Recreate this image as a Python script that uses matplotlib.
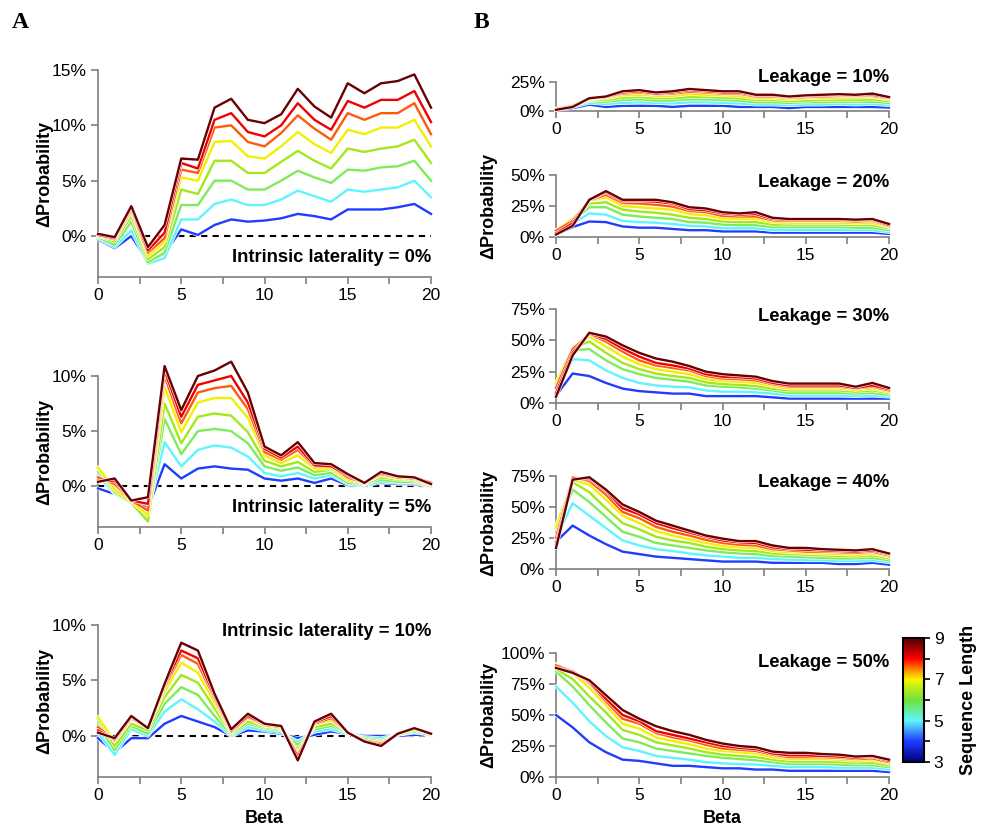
import matplotlib
matplotlib.use("Agg")
import matplotlib.pyplot as plt
import matplotlib.patheffects as pe
from matplotlib.colors import LinearSegmentedColormap, Normalize
from matplotlib.ticker import MultipleLocator, FuncFormatter, FixedLocator
import matplotlib.cm as cm

plt.rcParams["font.family"] = ["Liberation Sans", "DejaVu Sans"]

# ---- data (values in %) ----
beta = list(range(21))
seq_len = [3, 4, 5, 6, 7, 8, 9, 10]

# panel A: intrinsic laterality 0%, 5%, 10%   (rows = sequence length, low -> high)
lat0 = [
    [-0.3, -1.1, 0.0, -2.3, -1.6, 0.6, 0.1, 1.0, 1.5, 1.3, 1.4, 1.6, 2.0, 1.8, 1.5, 2.4, 2.4, 2.4, 2.6, 2.9, 2.0],
    [-0.2, -1.0, 0.5, -2.5, -2.0, 1.5, 1.5, 2.9, 3.3, 2.8, 2.8, 3.3, 4.1, 3.6, 3.1, 4.2, 4.0, 4.2, 4.4, 5.0, 3.5],
    [-0.1, -0.8, 1.3, -2.4, -1.5, 2.8, 2.8, 5.0, 5.0, 4.2, 4.2, 5.0, 5.9, 5.3, 4.8, 6.0, 5.9, 6.2, 6.3, 6.8, 5.0],
    [0.0, -0.5, 1.8, -2.1, -1.0, 4.2, 3.8, 6.8, 6.8, 5.7, 5.7, 6.7, 7.7, 6.8, 6.1, 7.9, 7.6, 7.9, 8.1, 8.7, 6.6],
    [0.0, -0.3, 2.2, -1.8, -0.5, 5.3, 5.0, 8.5, 8.6, 7.2, 7.0, 8.1, 9.4, 8.3, 7.5, 9.6, 9.2, 9.8, 9.8, 10.5, 8.1],
    [0.1, -0.3, 2.4, -1.5, -0.2, 6.0, 5.7, 9.8, 10.0, 8.5, 8.1, 9.3, 10.9, 9.7, 8.7, 11.1, 10.5, 11.1, 11.1, 12.0, 9.2],
    [0.1, -0.2, 2.6, -1.3, 0.3, 6.6, 6.1, 10.5, 11.1, 9.4, 9.0, 10.0, 12.0, 10.5, 9.6, 12.2, 11.6, 12.3, 12.3, 13.1, 10.3],
    [0.2, -0.1, 2.7, -1.0, 1.0, 7.0, 6.9, 11.6, 12.4, 10.5, 10.2, 11.0, 13.3, 11.7, 10.7, 13.8, 12.9, 13.8, 14.0, 14.6, 11.6],
]
lat5 = [
    [-0.2, -0.7, -1.3, -2.0, 2.0, 0.7, 1.6, 1.8, 1.6, 1.5, 0.7, 0.5, 0.7, 0.3, 0.7, 0.1, 0.1, 0.3, 0.2, 0.2, 0.0],
    [1.0, -0.7, -1.5, -2.3, 4.0, 1.8, 3.3, 3.7, 3.5, 2.7, 1.2, 0.9, 1.2, 0.7, 1.0, 0.2, 0.1, 0.4, 0.3, 0.3, 0.0],
    [1.3, -0.6, -1.5, -2.8, 6.1, 2.9, 5.0, 5.2, 5.0, 3.9, 1.8, 1.4, 1.7, 1.0, 1.2, 0.3, 0.2, 0.6, 0.4, 0.4, 0.0],
    [1.6, -0.5, -1.5, -3.2, 7.5, 3.9, 6.3, 6.6, 6.4, 4.9, 2.3, 1.8, 2.2, 1.3, 1.5, 0.5, 0.2, 0.8, 0.6, 0.5, 0.1],
    [1.7, -0.3, -1.4, -2.6, 9.0, 4.9, 7.6, 8.0, 8.0, 6.2, 2.8, 2.1, 2.8, 1.6, 1.6, 0.6, 0.3, 1.0, 0.7, 0.6, 0.1],
    [0.8, 0.2, -1.3, -2.2, 10.0, 5.7, 8.5, 8.9, 9.1, 7.0, 3.1, 2.4, 3.3, 1.8, 1.8, 0.8, 0.3, 1.1, 0.8, 0.7, 0.2],
    [0.5, 0.5, -1.3, -1.6, 10.5, 6.3, 9.2, 9.6, 10.0, 7.6, 3.4, 2.6, 3.6, 1.9, 1.8, 1.0, 0.3, 1.2, 0.9, 0.8, 0.3],
    [0.4, 0.7, -1.3, -1.0, 10.9, 6.9, 10.0, 10.5, 11.3, 8.5, 3.6, 2.8, 4.0, 2.1, 2.0, 1.1, 0.3, 1.3, 0.9, 0.8, 0.2],
]
lat10 = [
    [-0.2, -1.5, -0.2, -0.2, 1.1, 1.8, 1.3, 0.8, 0.0, 0.5, 0.4, 0.2, -0.2, 0.1, 0.4, 0.2, 0.0, 0.0, 0.0, 0.1, 0.1],
    [0.3, -1.7, 0.6, 0.0, 2.2, 3.3, 2.4, 1.3, 0.0, 0.8, 0.5, 0.3, -0.5, 0.4, 0.6, 0.2, -0.1, -0.2, 0.1, 0.3, 0.1],
    [1.0, -1.3, 0.9, 0.2, 2.9, 4.4, 3.7, 1.8, 0.1, 1.1, 0.7, 0.5, -0.8, 0.6, 0.9, 0.3, -0.2, -0.4, 0.1, 0.4, 0.1],
    [1.5, -0.9, 1.1, 0.5, 3.5, 5.5, 4.8, 2.5, 0.2, 1.3, 0.8, 0.6, -1.2, 0.8, 1.1, 0.3, -0.3, -0.5, 0.1, 0.5, 0.2],
    [1.7, -0.5, 1.5, 0.8, 4.0, 6.6, 5.7, 3.0, 0.3, 1.6, 0.9, 0.7, -1.5, 1.0, 1.4, 0.3, -0.4, -0.6, 0.2, 0.6, 0.2],
    [0.8, -0.4, 1.6, 0.7, 4.4, 7.3, 6.5, 3.4, 0.4, 1.7, 1.0, 0.8, -1.7, 1.1, 1.6, 0.3, -0.4, -0.7, 0.2, 0.7, 0.2],
    [0.5, -0.3, 1.7, 0.7, 4.6, 7.7, 7.0, 3.6, 0.5, 1.8, 1.1, 0.9, -1.9, 1.2, 1.8, 0.3, -0.5, -0.8, 0.2, 0.7, 0.2],
    [0.3, -0.2, 1.8, 0.7, 4.7, 8.4, 7.7, 3.8, 0.6, 2.0, 1.1, 0.9, -2.2, 1.3, 2.0, 0.3, -0.5, -0.9, 0.2, 0.7, 0.2],
]

# panel B: leakage 10% .. 50%
leak10 = [
    [1, 2.5, 5.5, 3.5, 4.5, 4.5, 4.5, 3.5, 4.5, 4.5, 4.5, 3.5, 3.5, 3.5, 2.5, 3.5, 3.5, 3.5, 3.5, 3.5, 3],
    [1.5, 3.5, 7, 6, 7, 7.5, 7, 6.5, 7.5, 7.5, 7, 6.5, 5.5, 5.5, 5, 5.5, 5.5, 6, 5.5, 6, 5],
    [2, 4.5, 8.5, 8, 9.5, 10, 9, 9, 10, 10, 9.5, 9, 7.5, 7.5, 7, 7.5, 7.5, 8, 8, 8, 7],
    [2, 5, 9.5, 9.5, 11.5, 12, 11, 11, 12, 12, 11.5, 11, 9.5, 9.5, 8.5, 9, 9.5, 9.5, 9.5, 10, 8.5],
    [2, 5, 10, 11, 13.5, 14, 13, 13, 14.5, 14, 13.5, 13, 11, 11, 10, 11, 11, 11.5, 11.5, 12, 10],
    [1.5, 4.5, 10.5, 12, 15, 16, 14.5, 15, 16.5, 16, 15, 15, 12.5, 12.5, 11.5, 12, 12.5, 13, 13, 13, 11],
    [1.5, 4, 11, 12, 16, 17, 15, 16, 18, 17, 16, 16, 13.5, 13.5, 12, 13, 13.5, 14, 13.5, 14, 11.5],
    [1, 3.5, 11, 12.5, 17, 18, 16, 17, 19, 18, 17, 17, 14, 14, 12.5, 13.5, 14, 14.5, 14, 15, 12],
]
leak20 = [
    [2, 8, 12.5, 12, 8.5, 7.5, 7.5, 6.5, 5.5, 5.5, 4.5, 4.5, 4.5, 3.5, 3.5, 3.5, 3.5, 3.5, 3.5, 3.5, 2.5],
    [3, 11, 19, 18, 13, 12, 11.5, 10.5, 9, 8.5, 7, 7, 7, 5.5, 5.5, 5.5, 5.5, 5.5, 5.5, 5.5, 4],
    [4, 13, 24, 24, 18, 16.5, 15.5, 14.5, 12, 11.5, 10, 9.5, 9.5, 8, 8, 8, 8, 8, 7.5, 7.5, 5.5],
    [5, 14, 27, 28, 22, 20.5, 19.5, 18, 15.5, 14.5, 12.5, 12, 12, 10, 10, 10, 10, 10, 9.5, 9.5, 7],
    [5.5, 14.5, 29, 32, 25, 24, 23, 22, 18.5, 17.5, 15, 14.5, 14.5, 12, 11.5, 11.5, 11.5, 11.5, 11, 11.5, 8],
    [5, 13, 29.5, 34, 27.5, 27, 26, 24.5, 21, 20, 17, 16.5, 16.5, 13.5, 13, 13, 13, 13, 12.5, 13, 9],
    [3, 11, 30, 36, 29, 29, 28.5, 27, 22.5, 21.5, 19, 18, 18.5, 14.5, 14, 14, 14, 14, 13.5, 14, 9.5],
    [2, 9, 30, 37, 30, 30, 30, 28, 24, 23, 20, 19, 20, 15.5, 14.5, 14.5, 14.5, 14.5, 14, 14.5, 10.5],
]
leak30 = [
    [6, 23.5, 21.5, 16, 11.5, 9.5, 8.5, 7.5, 7.5, 5.5, 5.5, 5.5, 5.5, 4.5, 3.5, 3.5, 3.5, 3.5, 3.5, 3.5, 3.5],
    [8, 35, 34, 26, 20, 16, 14, 13, 12.5, 10, 9, 9, 8.5, 7.5, 6, 6, 6, 6, 5.5, 6, 5],
    [12, 42, 43, 34, 27, 23, 20, 18.5, 17, 14, 13, 12.5, 11.5, 10, 8, 8, 8, 8, 7.5, 8, 6.5],
    [15, 44, 49, 40, 32, 27, 23.5, 21.5, 20, 16.5, 15, 14.5, 13.5, 11.5, 10, 10, 10, 10, 9, 10, 8],
    [16, 44, 53, 45, 37, 31, 27, 25, 23, 19, 17.5, 17, 16, 13.5, 11.5, 11.5, 11.5, 11.5, 10.5, 11.5, 9],
    [12, 43, 55, 49, 41, 34, 30, 28, 26, 21.5, 19.5, 19, 18, 15, 13, 13, 13, 13, 11.5, 13, 10],
    [8, 40, 55.5, 51, 43.5, 37, 32, 30, 27.5, 23, 21, 20.5, 19.5, 16, 14, 14, 14, 14, 12, 14, 11],
    [5, 38, 56, 53, 46, 40, 35.5, 33, 29.5, 25, 23, 22, 21, 17.5, 15.5, 15.5, 15.5, 15.5, 13, 16, 12],
]
leak40 = [
    [22, 35, 27, 20, 14, 12, 10, 9, 8, 7, 6, 6, 6, 5, 5, 5, 5, 4, 4, 5, 3.5],
    [25, 53, 43, 33, 23, 19, 16, 14.5, 12.5, 11, 10, 9, 9, 8, 7.5, 7, 7, 6.5, 6.5, 7, 5.5],
    [30, 64, 54, 42, 30, 26, 21, 19, 17, 15, 13.5, 12.5, 12, 10.5, 10, 9.5, 9, 8.5, 8.5, 9, 7],
    [35, 70, 62, 49, 37, 32, 26, 23, 21, 18, 16, 15, 14.5, 12.5, 12, 11.5, 11, 10.5, 10, 11, 8.5],
    [33, 72, 68, 56, 43, 37, 30.5, 27, 24, 21, 18.5, 17.5, 17, 14.5, 13.5, 13, 12.5, 12, 11.5, 12.5, 10],
    [25, 74, 71, 60, 46, 41, 34, 30, 27, 23.5, 21, 19.5, 19, 16, 15, 14, 14, 13.5, 13, 14, 11],
    [20, 73, 73, 63, 49, 44, 37, 33, 29.5, 26, 23, 21.5, 21, 17.5, 16, 15.5, 15, 14.5, 14, 15, 12],
    [17, 72, 74, 64, 52, 46, 39, 35, 31, 27, 24.5, 22.5, 22.5, 19, 17, 17, 16, 15.5, 15, 16, 12.5],
]
leak50 = [
    [50, 40, 28, 20, 14, 13, 11, 9, 9, 8, 7, 7, 6, 6, 5, 5, 5, 5, 5, 5, 4],
    [73, 60, 45, 33, 24, 21, 17, 15.5, 14, 12, 11, 10.5, 10, 9, 8, 8, 8, 7.5, 7.5, 7.5, 6],
    [85, 73, 58, 44, 31, 28, 23, 21, 19, 17, 15.5, 14.5, 13.5, 12, 10.5, 10.5, 10.5, 10, 9.5, 9.5, 8],
    [87, 79, 65, 52, 38, 34, 28, 25.5, 23, 20, 18, 17, 16, 14, 12.5, 12.5, 12.5, 12, 11.5, 11.5, 9.5],
    [91, 84, 72, 58, 43, 39, 32, 29, 26.5, 23, 21, 20, 19, 16, 14.5, 14.5, 14.5, 14, 13, 13.5, 11],
    [90, 85, 76, 61, 47, 43, 35.5, 32, 29.5, 26, 23, 22, 21, 18, 16, 16, 16, 15.5, 14.5, 15, 12],
    [88, 85, 77, 63, 50, 45, 37, 34, 31, 28, 25, 23.5, 22.5, 19, 17.5, 17.5, 17, 16.5, 15.5, 16.5, 13],
    [88, 84, 78, 66, 54, 47, 41, 37, 34, 30, 27, 25, 24, 20.5, 19.5, 19.5, 18.5, 18, 16.5, 17, 14],
]

lat_titles = ["Intrinsic laterality = 0%", "Intrinsic laterality = 5%", "Intrinsic laterality = 10%"]
leak_titles = ["Leakage = 10%", "Leakage = 20%", "Leakage = 30%", "Leakage = 40%", "Leakage = 50%"]

# ---- style ----
line_colors = ["#1f3cff", "#5ff5ff", "#7eec5a", "#a2e81a", "#f0f000",
               "#ff5a0a", "#f00000", "#6a0000"]
cmap = LinearSegmentedColormap.from_list(
    "seq", [(0.0, "#00007a"), (1/6, "#1f3cff"), (2/6, "#5ff5ff"), (0.5, "#6fe03a"),
            (4/6, "#f5f500"), (0.75, "#ff8000"), (5/6, "#ff0000"), (1.0, "#4a0000")])
spine_col = "#7f7f7f"
W, H = 986, 826


def px_rect(left, right, top, bottom):
    return [left / W, 1 - bottom / H, (right - left) / W, (bottom - top) / H]


def style_axis(ax, ylim, ystep, labelx, ylabel=True):
    ax.set_xlim(0, 20)
    ax.set_ylim(*ylim)
    for s in ["top", "right"]:
        ax.spines[s].set_visible(False)
    for s in ["left", "bottom"]:
        ax.spines[s].set_color(spine_col)
        ax.spines[s].set_linewidth(1.2)
    ax.xaxis.set_major_locator(MultipleLocator(5))
    ax.xaxis.set_minor_locator(MultipleLocator(2.5))
    ax.yaxis.set_major_locator(FixedLocator([v for v in range(0, 101, ystep)
                                             if v <= ylim[1] + 1e-9]))
    ax.yaxis.set_major_formatter(FuncFormatter(lambda v, p: "%d%%" % v))
    ax.tick_params(which="both", direction="out", length=5, width=1.2,
                   color=spine_col, labelsize=12.5, pad=3)
    if ylabel:
        ax.set_ylabel("\u0394Probability", fontsize=13, fontweight="bold")
        ax.yaxis.set_label_coords(labelx, 0.5)


def draw_lines(ax, series):
    for vals, col in zip(series, line_colors):
        ax.plot(beta, vals, color=col, lw=1.7, clip_on=False, zorder=3,
                path_effects=[pe.Stroke(linewidth=2.6, foreground="white"), pe.Normal()])


fig = plt.figure(figsize=(W / 100, H / 100), dpi=100)

# ---- panel A ----
a_rects = [px_rect(98, 431, 70, 277), px_rect(98, 431, 376, 527), px_rect(98, 431, 625, 777)]
a_ylims = [(-3.7, 15), (-3.7, 10), (-3.7, 10)]
a_text_y = [-1.9, -1.9, 9.4]
for i, (data, rect) in enumerate(zip([lat0, lat5, lat10], a_rects)):
    ax = fig.add_axes(rect)
    ax.axhline(0, color="black", lw=1.5, ls=(0, (3, 2.5)), zorder=2)
    draw_lines(ax, data)
    style_axis(ax, a_ylims[i], 5, -0.135)
    ax.text(20, a_text_y[i], lat_titles[i], ha="right", va="center",
            fontsize=13.2, fontweight="bold")
    if i == 2:
        ax.set_xlabel("Beta", fontsize=13, fontweight="bold", labelpad=5)

# ---- panel B ----
b_rects = [px_rect(556, 889, 82, 111), px_rect(556, 889, 175, 237),
           px_rect(556, 889, 309, 403), px_rect(556, 889, 476, 569),
           px_rect(556, 889, 653, 777)]
b_ylims = [(0, 25), (0, 50), (0, 75), (0, 75), (0, 100)]
b_text_y = [1.14, 0.887, 0.915, 0.925, 0.927]
b_has_label = [False, True, False, True, True]
for i, (data, rect) in enumerate(zip([leak10, leak20, leak30, leak40, leak50], b_rects)):
    ax = fig.add_axes(rect)
    draw_lines(ax, data)
    style_axis(ax, b_ylims[i], 25, -0.177, ylabel=b_has_label[i])
    ax.text(1.0, b_text_y[i], leak_titles[i], transform=ax.transAxes,
            ha="right", va="center", fontsize=13.2, fontweight="bold")
    if i == 4:
        ax.set_xlabel("Beta", fontsize=13, fontweight="bold", labelpad=5)

# ---- colorbar ----
cax = fig.add_axes(px_rect(903, 924, 638, 762))
sm = cm.ScalarMappable(norm=Normalize(3, 9), cmap=cmap)
cb = fig.colorbar(sm, cax=cax, ticks=[3, 5, 7, 9])
cb.outline.set_linewidth(1.5)
cb.ax.yaxis.set_minor_locator(FixedLocator([4, 6, 8]))
cb.ax.tick_params(which="both", length=4, width=1.2, labelsize=12.5, pad=3)
cb.set_label("Sequence Length", fontsize=13, fontweight="bold", labelpad=12)

# panel letters
fig.text(12 / W, 1 - 22 / H, "A", fontsize=17, fontweight="bold",
         family="Liberation Serif", va="center")
fig.text(474 / W, 1 - 22 / H, "B", fontsize=17, fontweight="bold",
         family="Liberation Serif", va="center")

fig.savefig("out.png", dpi=100)
